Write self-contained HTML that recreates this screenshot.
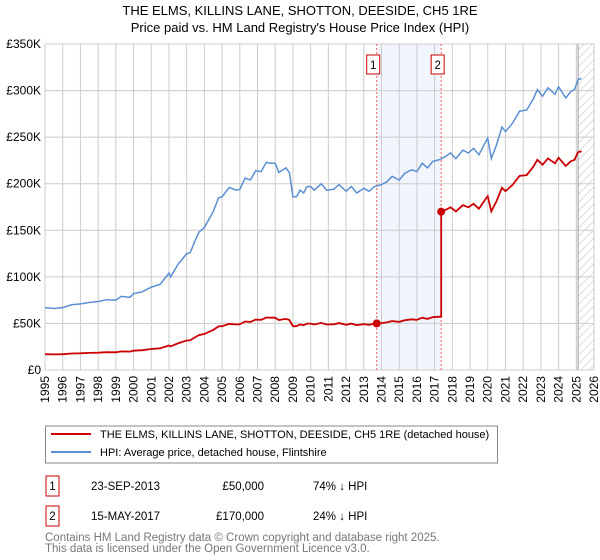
<!DOCTYPE html>
<html><head><meta charset="utf-8"><style>
body{margin:0;background:#fff;font-family:"Liberation Sans","DejaVu Sans",sans-serif;}
svg{display:block}
</style></head><body>
<svg id="chart" width="600" height="560" xmlns="http://www.w3.org/2000/svg">
<defs><pattern id="hatch" width="6" height="6" patternUnits="userSpaceOnUse" patternTransform="rotate(45)"><line x1="0" y1="0" x2="0" y2="6" stroke="#bbb" stroke-width="1"/></pattern></defs>
<text x="300" y="15" text-anchor="middle" font-size="13">THE ELMS, KILLINS LANE, SHOTTON, DEESIDE, CH5 1RE</text>
<text x="300" y="32" text-anchor="middle" font-size="13">Price paid vs. HM Land Registry's House Price Index (HPI)</text>
<g id="plot"></g>
<rect x="45.5" y="426" width="452" height="37" fill="#fff" stroke="#888"/>
<line x1="51" y1="434" x2="91" y2="434" stroke="#cc0000" stroke-width="2"/>
<text x="100" y="438" font-size="11">THE ELMS, KILLINS LANE, SHOTTON, DEESIDE, CH5 1RE (detached house)</text>
<line x1="51" y1="452" x2="91" y2="452" stroke="#5b8fd4" stroke-width="2"/>
<text x="100" y="456" font-size="11">HPI: Average price, detached house, Flintshire</text>
<g font-size="11.5">
<rect x="46" y="476" width="13" height="20" fill="#fff" stroke="#cc0000"/>
<text x="52.5" y="490" text-anchor="middle">1</text>
<text x="91" y="490">23-SEP-2013</text>
<text x="264" y="490" text-anchor="end">£50,000</text>
<text x="313" y="490">74% ↓ HPI</text>
</g>
<g font-size="11.5">
<rect x="46" y="506" width="13" height="20" fill="#fff" stroke="#cc0000"/>
<text x="52.5" y="520" text-anchor="middle">2</text>
<text x="91" y="520">15-MAY-2017</text>
<text x="264" y="520" text-anchor="end">£170,000</text>
<text x="313" y="520">24% ↓ HPI</text>
</g>
<text x="45" y="541" font-size="11.5" fill="#777">Contains HM Land Registry data © Crown copyright and database right 2025.</text>
<text x="45" y="552" font-size="11.5" fill="#777">This data is licensed under the Open Government Licence v3.0.</text>
</svg>
<script>
const hpiYears=[1995,1995.5,1996,1996.5,1997,1997.5,1998,1998.5,1999,1999.3,1999.8,2000,2000.5,2001,2001.5,2002,2002.1,2002.5,2003,2003.2,2003.5,2003.7,2004,2004.5,2004.8,2005,2005.4,2005.8,2006,2006.3,2006.6,2006.9,2007.2,2007.5,2007.7,2008,2008.2,2008.6,2008.8,2009,2009.2,2009.4,2009.6,2009.8,2010,2010.2,2010.6,2010.9,2011.3,2011.6,2012,2012.3,2012.6,2013,2013.3,2013.6,2014,2014.3,2014.6,2015,2015.3,2015.7,2016,2016.3,2016.6,2016.9,2017.3,2017.6,2017.9,2018.2,2018.6,2018.9,2019.2,2019.5,2019.8,2020,2020.2,2020.5,2020.8,2021,2021.4,2021.8,2022.2,2022.6,2022.8,2023.1,2023.4,2023.8,2024,2024.4,2024.7,2024.9,2025.1,2025.3];
const hpiValues=[67,66,67,70,71,72.5,73.5,75.5,75,79,78,82,84,89,92,104,100,113,125,126,140,148,153,170,185,186,196,193,194,206,204,214,213,223,222,222,212,217,212,186,186,193,190,197,197,193,200,193,194,199,192,197,190,195,192,197,199,202,208,204,211,215,213,222,217,224,226,229,233,227,236,233,238,231,242,249,227,242,261,256,265,278,279,292,301,294,303,296,304,292,299,301,312,313];
const saleYears=[2013.73,2017.37];
const salePrices=[50,170];
const saleLabels=["1","2"];
const yTicks=[0,50,100,150,200,250,300,350];
const yTickLabels=["£0","£50K","£100K","£150K","£200K","£250K","£300K","£350K"];
const xTicks=[1995,1996,1997,1998,1999,2000,2001,2002,2003,2004,2005,2006,2007,2008,2009,2010,2011,2012,2013,2014,2015,2016,2017,2018,2019,2020,2021,2022,2023,2024,2025,2026];
const X0=45,X1=594,Y0=370,Y1=44;
const xs=y=>X0+(y-1995)/(2026-1995)*(X1-X0);
const ys=v=>Y0-v/350*(Y0-Y1);
const NS="http://www.w3.org/2000/svg";
const plot=document.getElementById('plot');
function mk(t,a){const e=document.createElementNS(NS,t);for(const k in a)e.setAttribute(k,a[k]);plot.appendChild(e);return e;}
function hpiAt(y){for(let i=1;i<hpiYears.length;i++){if(hpiYears[i]>=y){const t=(y-hpiYears[i-1])/(hpiYears[i]-hpiYears[i-1]);return hpiValues[i-1]+t*(hpiValues[i]-hpiValues[i-1]);}}return hpiValues[hpiValues.length-1];}
let e=mk('rect',{x:xs(saleYears[0]),y:Y1,width:xs(saleYears[1])-xs(saleYears[0]),height:Y0-Y1,fill:'#eef3fc',opacity:0.8});


e=mk('rect',{x:xs(2025.1),y:Y1,width:X1-xs(2025.1),height:Y0-Y1,fill:'url(#hatch)'});


xTicks.forEach(t=>{
 const g=mk('line',{x1:xs(t),x2:xs(t),y1:Y1,y2:Y0,stroke:'#ccc'});
 
 
 const lx=xs(t)+4,ly=376;
 const tx=mk('text',{x:lx,y:ly,'font-size':12,'text-anchor':'end',transform:`rotate(-90 ${lx} ${ly})`});
 tx.textContent=t;
 
 
});
yTicks.forEach((t,i)=>{
 const g=mk('line',{x1:X0,x2:X1,y1:ys(t),y2:ys(t),stroke:'#ccc'});
 
 
 const tx=mk('text',{x:41,y:ys(t)+4,'font-size':12,'text-anchor':'end'});
 tx.textContent=yTickLabels[i];
 
 
});
e=mk('line',{x1:xs(2025.1),x2:xs(2025.1),y1:Y1,y2:Y0,stroke:'#999'});


saleYears.forEach((s,i)=>{
 const l=mk('line',{x1:xs(s),x2:xs(s),y1:Y1,y2:Y0,stroke:'#f06060','stroke-dasharray':'2,2'});
 
 
});
e=mk('path',{d:hpiYears.map((y,i)=>(i?'L':'M')+xs(y).toFixed(1)+','+ys(hpiValues[i]).toFixed(1)).join(''),fill:'none',stroke:'#5b8fd4','stroke-width':1.5});


let pts=[];
const r0=salePrices[0]/hpiAt(saleYears[0]),r1=salePrices[1]/hpiAt(saleYears[1]);
hpiYears.forEach((y,i)=>{
 if(y<saleYears[1])pts.push([y,hpiValues[i]*r0]);
});
pts.push([saleYears[1],hpiAt(saleYears[1])*r0]);
pts.push([saleYears[1],salePrices[1]]);
hpiYears.forEach((y,i)=>{if(y>saleYears[1])pts.push([y,hpiValues[i]*r1]);});
e=mk('path',{d:pts.map((p,i)=>(i?'L':'M')+xs(p[0]).toFixed(1)+','+ys(p[1]).toFixed(1)).join(''),fill:'none',stroke:'#cc0000','stroke-width':1.8});


saleYears.forEach((s,i)=>{
 const d=mk('circle',{cx:xs(s),cy:ys(salePrices[i]),r:4,fill:'#cc0000'});
 
 
 const b=mk('rect',{x:xs(s)-10,y:55,width:13,height:19,fill:'#fff',stroke:'#cc0000'});
 
 
 const t=mk('text',{x:xs(s)-3.5,y:69,'font-size':11.5,'text-anchor':'middle'});
 t.textContent=saleLabels[i];
 
 
});
</script>
</body></html>
